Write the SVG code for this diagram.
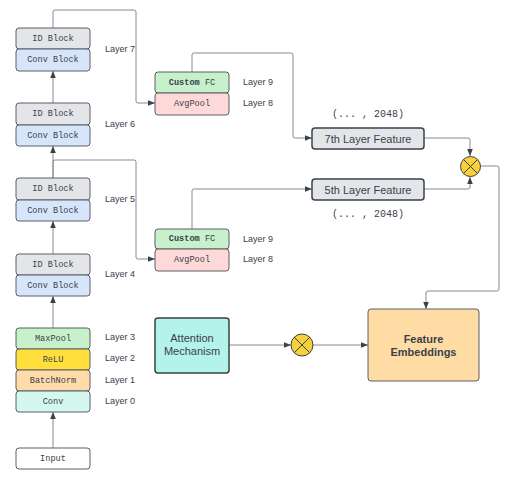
<svg xmlns="http://www.w3.org/2000/svg" width="520" height="488" viewBox="0 0 520 488">
<defs>
<marker id="arr" viewBox="0 0 10 10" refX="10" refY="5" markerWidth="7" markerHeight="7" orient="auto" markerUnits="userSpaceOnUse">
<path d="M0,1 L10,5 L0,9 Z" fill="#3a414a"/>
</marker>
<style>
.b{stroke:#5a5f66;stroke-width:1}
.m{font-family:"Liberation Mono","DejaVu Sans Mono",monospace;font-size:8.6px;fill:#3a414a;text-anchor:middle;dominant-baseline:central}
.d{font-size:10px}
.l{font-family:"Liberation Sans",Arial,sans-serif;font-size:9px;fill:#3a414a;dominant-baseline:central}
.s{font-family:"Liberation Sans",Arial,sans-serif;font-size:11px;fill:#3a414a;text-anchor:middle;dominant-baseline:central}
.c{fill:none;stroke:#858a93;stroke-width:1}
.id{fill:#e3e5e9}.cv{fill:#d7e5fb}.fc{fill:#c7f1cb}.ap{fill:#ffd9d9}
</style>
</defs>
<rect width="520" height="488" fill="#ffffff"/>
<g id="connectors">
<path class="c" d="M53,448 V412" marker-end="url(#arr)"/>
<path class="c" d="M53,328 V296" marker-end="url(#arr)"/>
<path class="c" d="M53,254 V221" marker-end="url(#arr)"/>
<path class="c" d="M53,178 V146" marker-end="url(#arr)"/>
<path class="c" d="M53,103 V71" marker-end="url(#arr)"/>
<path class="c" d="M53,28 V12 Q53,10 55,10 H134 Q136,10 136,12 V101 Q136,103 138,103 H155" marker-end="url(#arr)"/>
<path class="c" d="M53,178 V162 Q53,160 55,160 H134 Q136,160 136,162 V257 Q136,259 138,259 H155" marker-end="url(#arr)"/>
<path class="c" d="M192,72 V55 Q192,53 194,53 H291 Q293,53 293,55 V136 Q293,138 295,138 H312" marker-end="url(#arr)"/>
<path class="c" d="M192,229 V191 Q192,189 194,189 H312" marker-end="url(#arr)"/>
<path class="c" d="M424,138 H468 Q470,138 470,140 V156" marker-end="url(#arr)"/>
<path class="c" d="M424,189 H468 Q470,189 470,187 V177" marker-end="url(#arr)"/>
<path class="c" d="M481,166 H497 Q499,166 499,168 V289 Q499,291 497,291 H428 Q426,291 426,293 V309" marker-end="url(#arr)"/>
<path class="c" d="M229,345 H291" marker-end="url(#arr)"/>
<path class="c" d="M313,345 H368" marker-end="url(#arr)"/>
</g>
<g id="block7">
<rect class="b id" x="16" y="28" width="74" height="21" rx="3"/>
<rect class="b cv" x="16" y="49" width="74" height="22" rx="3"/>
<text class="m" x="53" y="38.5">ID Block</text>
<text class="m" x="53" y="60">Conv Block</text>
<text class="l" x="105" y="49">Layer 7</text>
</g>
<g id="block6">
<rect class="b id" x="16" y="103" width="74" height="22" rx="3"/>
<rect class="b cv" x="16" y="125" width="74" height="21" rx="3"/>
<text class="m" x="53" y="114">ID Block</text>
<text class="m" x="53" y="135.5">Conv Block</text>
<text class="l" x="105" y="124">Layer 6</text>
</g>
<g id="block5">
<rect class="b id" x="16" y="178" width="74" height="22" rx="3"/>
<rect class="b cv" x="16" y="200" width="74" height="21" rx="3"/>
<text class="m" x="53" y="189">ID Block</text>
<text class="m" x="53" y="210.5">Conv Block</text>
<text class="l" x="105" y="199">Layer 5</text>
</g>
<g id="block4">
<rect class="b id" x="16" y="254" width="74" height="21" rx="3"/>
<rect class="b cv" x="16" y="275" width="74" height="21" rx="3"/>
<text class="m" x="53" y="264.5">ID Block</text>
<text class="m" x="53" y="285.5">Conv Block</text>
<text class="l" x="105" y="274">Layer 4</text>
</g>
<g id="stem">
<rect class="b" fill="#c7f1cb" x="16" y="328" width="74" height="21" rx="3"/>
<rect class="b" fill="#ffdf3c" x="16" y="349" width="74" height="21" rx="3"/>
<rect class="b" fill="#fedcaa" x="16" y="370" width="74" height="21" rx="3"/>
<rect class="b" fill="#d4f8ef" x="16" y="391" width="74" height="21" rx="3"/>
<text class="m" x="53" y="338.5">MaxPool</text>
<text class="m" x="53" y="359.5">ReLU</text>
<text class="m" x="53" y="380.5">BatchNorm</text>
<text class="m" x="53" y="401.5">Conv</text>
<text class="l" x="105" y="337">Layer 3</text>
<text class="l" x="105" y="358">Layer 2</text>
<text class="l" x="105" y="380">Layer 1</text>
<text class="l" x="105" y="401">Layer 0</text>
</g>
<g id="input">
<rect class="b" fill="#ffffff" x="16" y="448" width="74" height="21" rx="3"/>
<text class="m" x="53" y="458.5">Input</text>
</g>
<g id="head7">
<rect class="b fc" x="155" y="72" width="74" height="21" rx="3"/>
<rect class="b ap" x="155" y="93" width="74" height="22" rx="3"/>
<text class="m" x="192" y="82.5"><tspan font-weight="bold">Custom</tspan> FC</text>
<text class="m" x="192" y="104">AvgPool</text>
<text class="l" x="243" y="82">Layer 9</text>
<text class="l" x="243" y="103">Layer 8</text>
</g>
<g id="head5">
<rect class="b fc" x="155" y="229" width="74" height="20" rx="3"/>
<rect class="b ap" x="155" y="249" width="74" height="22" rx="3"/>
<text class="m" x="192" y="239"><tspan font-weight="bold">Custom</tspan> FC</text>
<text class="m" x="192" y="260">AvgPool</text>
<text class="l" x="243" y="239">Layer 9</text>
<text class="l" x="243" y="259">Layer 8</text>
</g>
<g id="feat7">
<rect x="312" y="128" width="112" height="21" rx="3" fill="#e3e5e9" stroke="#3a414a" stroke-width="1.5"/>
<text class="s" x="368" y="138.5">7th Layer Feature</text>
<text class="m d" x="368" y="114">(... , 2048)</text>
</g>
<g id="feat5">
<rect x="312" y="179" width="112" height="21" rx="3" fill="#e3e5e9" stroke="#3a414a" stroke-width="1.5"/>
<text class="s" x="368" y="189.5">5th Layer Feature</text>
<text class="m d" x="368" y="214">(... , 2048)</text>
</g>
<g id="mult1">
<circle cx="470.5" cy="166.5" r="10" fill="#f7d03a" stroke="#3a414a" stroke-width="1"/>
<path d="M463.4,159.4 L477.6,173.6 M477.6,159.4 L463.4,173.6" stroke="#3a414a" stroke-width="1"/>
</g>
<g id="attention">
<rect x="155" y="318" width="74" height="55" rx="3" fill="#b4f2ec" stroke="#3a414a" stroke-width="1.5"/>
<text class="s" x="192" y="338">Attention</text>
<text class="s" x="192" y="351">Mechanism</text>
</g>
<g id="mult2">
<circle cx="302" cy="345" r="11" fill="#f7d03a" stroke="#3a414a" stroke-width="1"/>
<path d="M294.2,337.2 L309.8,352.8 M309.8,337.2 L294.2,352.8" stroke="#3a414a" stroke-width="1"/>
</g>
<g id="embeddings">
<rect x="368" y="309" width="111" height="72" rx="3" fill="#ffdca3" stroke="#5a5f66" stroke-width="1"/>
<text class="s" x="423.5" y="339" font-weight="bold">Feature</text>
<text class="s" x="423.5" y="352" font-weight="bold">Embeddings</text>
</g>
</svg>
